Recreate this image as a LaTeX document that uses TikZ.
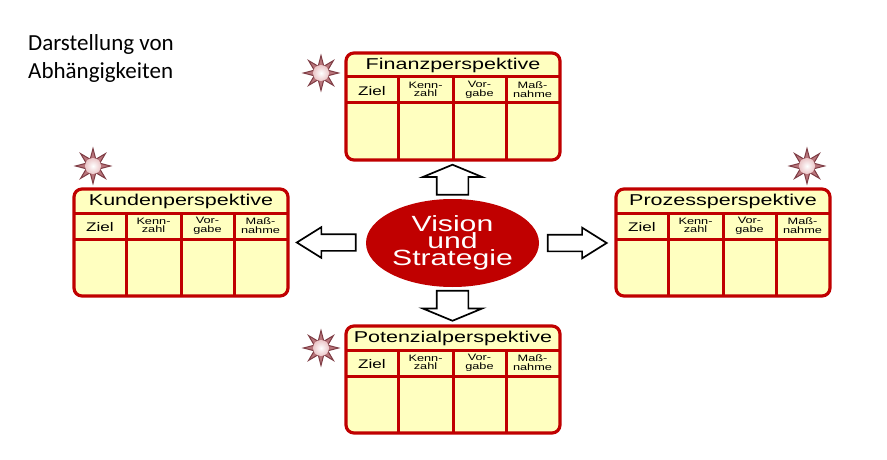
\documentclass[tikz,border=0pt]{standalone}
\usepackage{fontspec}
\usepackage{xcolor}
\setmainfont{Carlito}
\newfontfamily\widefont[FakeStretch=1.37]{Liberation Sans}
\usetikzlibrary{arrows.meta,positioning,calc,shapes.geometric,shapes.arrows}
\definecolor{boxred}{HTML}{C00000}
\definecolor{boxfill}{HTML}{FFFFC0}
\definecolor{starrim}{HTML}{7E3C44}
\definecolor{starfill}{HTML}{B9767C}
\definecolor{ballrim}{HTML}{EBC6C8}

% One perspective table: name, left edge, top edge, title
\newcommand{\perspective}[4]{
    \node[perspbox] (#1) at (#2+107,#3+53.5) {};
    \draw[gridline] ([yshift=-24pt]#1.north west) -- ([yshift=-24pt]#1.north east);
    \draw[gridline] ([yshift=-50pt]#1.north west) -- ([yshift=-50pt]#1.north east);
    \draw[gridline] ([xshift=52pt,yshift=-24pt]#1.north west) -- ([xshift=52pt]#1.south west);
    \draw[gridline] ([xshift=107pt,yshift=-24pt]#1.north west) -- ([xshift=107pt]#1.south west);
    \draw[gridline] ([xshift=160pt,yshift=-24pt]#1.north west) -- ([xshift=160pt]#1.south west);
    \node[titletext] (#1title) at ($(#1.north)+(0,12.5)$) {#4};
    \node[bigcell] (#1a) at ($(#1.north west)+(26,38)$) {Ziel};
    \node[cell] (#1b) at ($(#1.north west)+(79.5,36.5)$) {Kenn-\\zahl};
    \node[cell] (#1c) at ($(#1.north west)+(133.5,36.5)$) {Vor-\\gabe};
    \node[cell] (#1d) at ($(#1.north west)+(186.5,36.5)$) {Maß-\\nahme};
}

\begin{document}
\begin{tikzpicture}[
    x=1pt, y=-1pt,
    perspbox/.style={
        draw=boxred,
        fill=boxfill,
        line width=3.2pt,
        rounded corners=8pt,
        minimum width=214pt,
        minimum height=107pt,
        inner sep=0pt,
        outer sep=0pt
    },
    gridline/.style={boxred, line width=3pt},
    titletext/.style={font=\widefont\fontsize{15.7}{17}\selectfont, inner sep=0pt},
    bigcell/.style={font=\widefont\fontsize{12.5}{14}\selectfont, inner sep=0pt},
    cell/.style={font=\widefont\fontsize{9.3}{8.6}\selectfont, align=center, inner sep=0pt},
    blockup/.style={
        draw=black,
        fill=white,
        line width=1.7pt,
        single arrow,
        inner sep=0pt,
        outer sep=0pt,
        text height=30pt,
        text depth=0pt,
        text width=0pt,
        minimum height=30pt,
        single arrow head extend=14pt,
        single arrow tip angle=135
    },
    blockside/.style={
        draw=black,
        fill=white,
        line width=1.7pt,
        single arrow,
        inner sep=0pt,
        outer sep=0pt,
        text height=15pt,
        text depth=0pt,
        text width=0pt,
        minimum height=59pt,
        single arrow head extend=7pt,
        single arrow tip angle=64
    },
    burst/.style={
        star,
        star points=8,
        star point ratio=2.4,
        minimum size=35pt,
        inner sep=0pt,
        draw=starrim,
        fill=starfill,
        line width=1pt
    },
    ball/.style={
        circle,
        minimum size=16pt,
        inner sep=0pt,
        inner color=white,
        outer color=ballrim
    }
]
\useasboundingbox (0,0) rectangle (887,460);
\fill[white] (0,0) rectangle (887,460);

% Heading top left
\node[font=\fontsize{23}{28}\selectfont, align=left, anchor=north west, inner sep=0pt] (heading) at (28,34.5)
    {Darstellung von\\Abhängigkeiten};

% The four perspectives
\perspective{finanz}{346}{53}{Finanzperspektive}
\perspective{kunden}{74}{189}{Kundenperspektive}
\perspective{prozess}{616}{189}{Prozessperspektive}
\perspective{potenzial}{346}{326}{Potenzialperspektive}

% Centre
\node[ellipse, fill=boxred, text=white, minimum width=173pt, minimum height=88pt, inner sep=0pt,
      align=center, font=\widefont\fontsize{22}{17}\selectfont] (vision) at (452.5,243)
    {Vision\\und\\Strategie};

% Block arrows out of the centre
\node[blockup, rotate=90] (arrowup) at (452.5,183) {};
\node[blockup, rotate=-90] (arrowdown) at (452.5,302.5) {};
\node[blockside, rotate=180] (arrowleft) at (333,242.5) {};
\node[blockside] (arrowright) at (570.5,243) {};

% Stars
\node[burst] (starfinanz) at (321,73) {};
\node[ball] (ballfinanz) at (starfinanz.center) {};
\node[burst] (starkunden) at (93,166) {};
\node[ball] (ballkunden) at (starkunden.center) {};
\node[burst] (starprozess) at (807,166) {};
\node[ball] (ballprozess) at (starprozess.center) {};
\node[burst] (starpotenzial) at (321,348) {};
\node[ball] (ballpotenzial) at (starpotenzial.center) {};

\end{tikzpicture}
\end{document}
